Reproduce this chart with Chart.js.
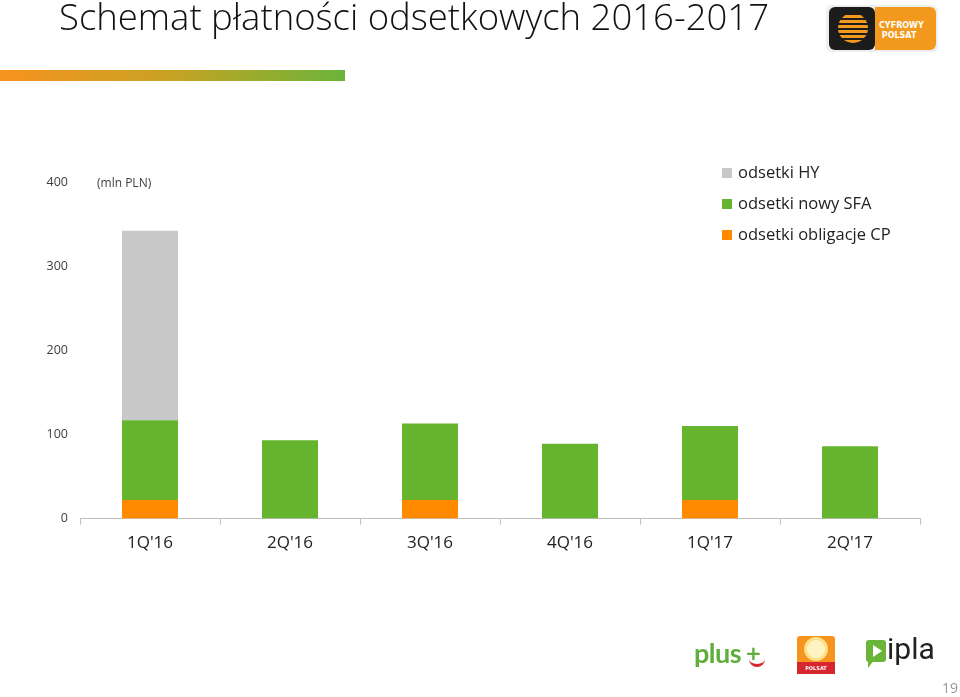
<!DOCTYPE html>
<html>
<head>
<meta charset="utf-8">
<script src="https://cdn.jsdelivr.net/npm/chart.js@4"></script>
<style>
  body { margin: 0; background: #fff; font-family: "Open Sans", sans-serif; }
  #wrap { position: relative; width: 960px; height: 697px; overflow: hidden; }
  #c { position: absolute; left: 0; top: 0; }
  .abs { position: absolute; }
  #title { left: 59px; top: -9px; font-size: 36.5px; font-weight: 300; color: #111; letter-spacing: 0px; white-space: nowrap; }
  #bar { left: 0; top: 70px; width: 345px; height: 11px; background: linear-gradient(to right, #f7931e, #c7a224 50%, #6ab539); }
  #unit { left: 97px; top: 174px; font-size: 12px; color: #404040; }
  .leg { left: 722px; font-size: 16.5px; color: #222; white-space: nowrap; }
  .leg span { display: inline-block; width: 10px; height: 10px; margin-right: 6px; }
  #num { left: 942px; top: 678px; font-size: 14px; color: #999; }
</style>
</head>
<body>
<div id="wrap">
  <canvas id="c" width="960" height="697"></canvas>
  <div id="title" class="abs">Schemat płatności odsetkowych 2016-2017</div>
  <div id="bar" class="abs"></div>
  <div id="unit" class="abs">(mln PLN)</div>
  <div class="abs leg" style="top:160px"><span style="background:#c8c8c8"></span>odsetki HY</div>
  <div class="abs leg" style="top:191px"><span style="background:#66b32e"></span>odsetki nowy SFA</div>
  <div class="abs leg" style="top:222px"><span style="background:#ff8a00"></span>odsetki obligacje CP</div>

  <!-- Cyfrowy Polsat logo -->
  <div class="abs" style="left:826px;top:5px;width:112px;height:47px;border-radius:6px;background:#eee;"></div>
  <div class="abs" style="left:829px;top:7px;width:46px;height:43px;border-radius:6px;background:#1c1c1c;"></div>
  <div class="abs" style="left:838px;top:13px;width:30px;height:30px;border-radius:50%;background:repeating-linear-gradient(0deg,#f39a1e 0 3px,#1c1c1c 3px 5px);"></div>
  <div class="abs" style="left:875px;top:7px;width:61px;height:43px;border-radius:0 6px 6px 0;background:#f39a1e;color:#fff;font:bold 8px 'DejaVu Sans';line-height:10px;padding:14px 0 0 4px;box-sizing:border-box;">CYFROWY<br>&nbsp;POLSAT</div>

  <!-- bottom logos -->
  <div class="abs" style="left:694px;top:636px;font:bold 27px 'Lato';color:#5fae3a;letter-spacing:-0.5px;">plus</div>
  <div class="abs" style="left:745px;top:644px;width:20px;height:18px;font:bold 20px 'DejaVu Sans';color:#5fae3a;line-height:18px;">+</div>
  <div class="abs" style="left:749px;top:656px;width:16px;height:8px;border-bottom:3px solid #d6262f;border-radius:0 0 10px 10px;"></div>
  <div class="abs" style="left:797px;top:636px;width:38px;height:38px;border-radius:3px;background:#f7941d;"></div>
  <div class="abs" style="left:807px;top:640px;width:18px;height:18px;border-radius:50%;background:#fff3c0;box-shadow:0 0 0 3px #fde08a;"></div>
  <div class="abs" style="left:797px;top:662px;width:38px;height:12px;background:#d6262f;color:#fff;font:bold 5px 'DejaVu Sans';text-align:center;line-height:12px;">POLSAT</div>
  <div class="abs" style="left:866px;top:640px;width:20px;height:22px;border-radius:3px;background:#6ab539;"></div>
  <div class="abs" style="left:873px;top:645px;width:0;height:0;border-left:9px solid #fff;border-top:6px solid transparent;border-bottom:6px solid transparent;"></div>
  <div class="abs" style="left:868px;top:660px;width:0;height:0;border-left:6px solid #6ab539;border-bottom:8px solid transparent;"></div>
  <div class="abs" style="left:887px;top:631px;font:30px 'Roboto';color:#222;">ipla</div>
  <div id="num" class="abs">19</div>
</div>
<script>
const quarters = ["1Q'16", "2Q'16", "3Q'16", "4Q'16", "1Q'17", "2Q'17"];
const bondsCP = [22, 0, 22, 0, 22, 0];
const newSFA = [95, 93, 91, 89, 88, 86];
const hyNotes = [225, 0, 0, 0, 0, 0];
const yTicks = [0, 100, 200, 300, 400];

const axisGrey = '#bfbfbf';

new Chart(document.getElementById('c'), {
  type: 'bar',
  data: {
    labels: quarters,
    datasets: [
      { label: 'odsetki obligacje CP', data: bondsCP, backgroundColor: '#ff8a00' },
      { label: 'odsetki nowy SFA', data: newSFA, backgroundColor: '#66b32e' },
      { label: 'odsetki HY', data: hyNotes, backgroundColor: '#c8c8c8' }
    ]
  },
  options: {
    responsive: false,
    animation: false,
    layout: { padding: { top: 182, right: 40, left: 0, bottom: 136 } },
    datasets: { bar: { categoryPercentage: 1, barPercentage: 0.4 } },
    plugins: { legend: { display: false }, tooltip: { enabled: false } },
    scales: {
      x: {
        stacked: true,
        grid: { display: true, offset: true, drawOnChartArea: false, drawTicks: true, tickLength: 6, color: axisGrey },
        border: { display: true, color: axisGrey },
        ticks: { color: '#222', font: { family: 'Open Sans', size: 17 }, padding: 8 }
      },
      y: {
        stacked: true,
        min: 0,
        max: 400,
        afterBuildTicks: s => { s.ticks = yTicks.map(v => ({ value: v })); },
        afterFit: s => { s.width = 80; },
        grid: { display: false },
        border: { display: false },
        ticks: { color: '#404040', font: { family: 'Open Sans', size: 12.5 }, padding: 4 }
      }
    }
  }
});
</script>
</body>
</html>
